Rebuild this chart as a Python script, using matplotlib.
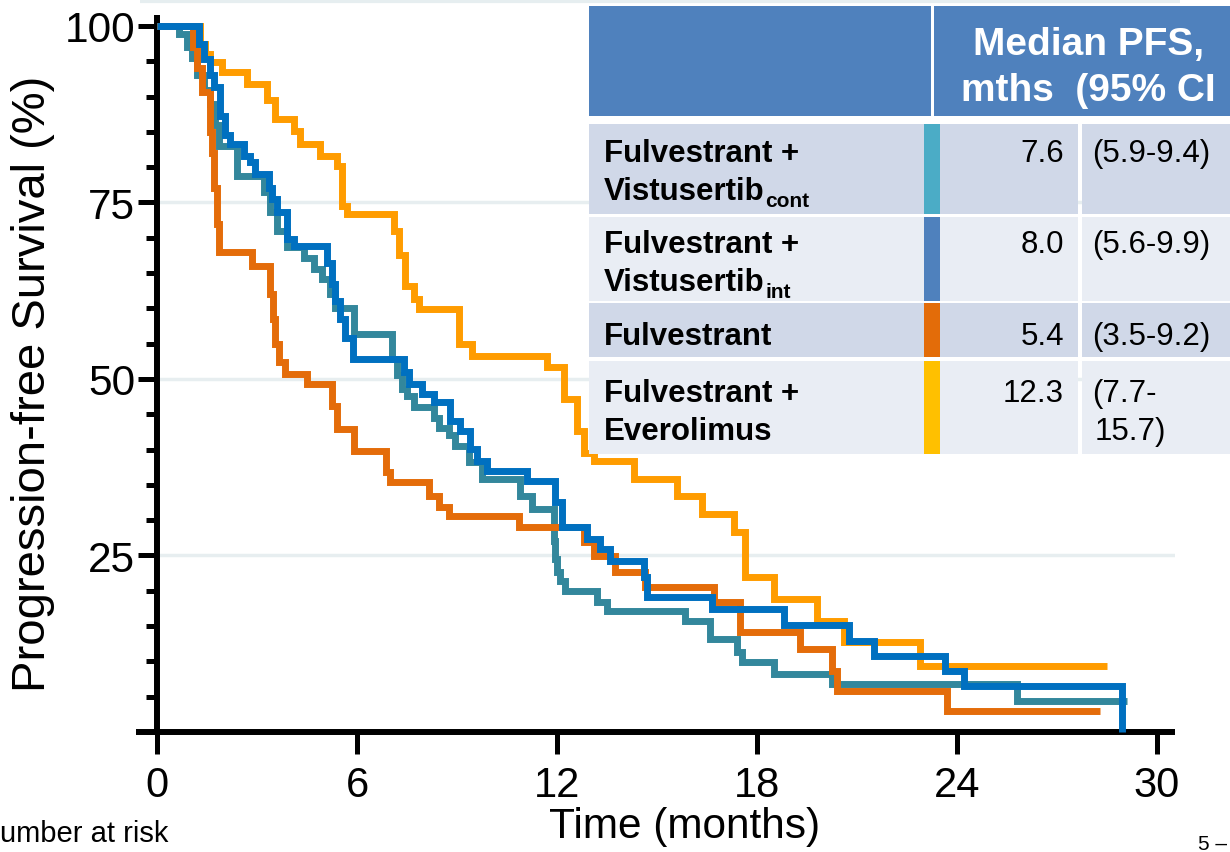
import matplotlib
matplotlib.use('Agg')
import matplotlib.pyplot as plt
from matplotlib.patches import Rectangle
from matplotlib.ticker import MultipleLocator

plt.rcParams['font.family'] = ['Liberation Sans', 'DejaVu Sans']

# ---------------- data ----------------
# Fulvestrant + Vistusertib (continuous)
teal_t = [0, 0.65, 0.9, 1.05, 1.2, 1.4, 1.6, 1.75, 1.85, 2.4, 3.2, 3.4, 3.6, 3.9, 4.4, 4.7,
          4.95, 5.2, 5.35, 5.9, 7.05, 7.2, 7.35, 7.5, 7.7, 8.3, 8.45, 8.75, 8.95, 9.35, 9.75,
          10.9, 11.25, 11.9, 11.95, 12.0, 12.1, 12.25, 13.2, 13.5, 15.85, 16.6, 17.4, 17.55,
          18.5, 20.25, 25.8, 29.1]
teal_s = [100, 98.8, 97, 95.5, 93, 91, 89, 86, 83, 78.8, 76.5, 73.6, 71, 68.7, 67.1, 65.6,
          64.2, 62, 60, 56.4, 52.8, 50.5, 48.6, 47.6, 46, 44.5, 43, 42, 40.5, 38.2, 35.8,
          33.4, 31.6, 27, 24.5, 22.6, 21.4, 20.0, 18.4, 17.1, 15.7, 13.2, 11.3, 9.9,
          8.2, 6.8, 4.4, 4.4]

# Fulvestrant + Vistusertib (intermittent)
blue_t = [0, 1.25, 1.4, 1.6, 1.7, 1.9, 2.05, 2.2, 2.6, 2.8, 2.95, 3.35, 3.45, 3.6, 3.9, 4.1,
          5.1, 5.25, 5.35, 5.5, 5.65, 5.88, 7.4, 7.55, 7.95, 8.3, 8.8, 9.1, 9.4, 9.6, 9.9,
          11.1, 11.95, 12.15, 12.9, 13.3, 13.6, 14.6, 14.7, 16.65, 18.8, 20.75, 21.5, 23.65,
          24.2, 28.95]
blue_s = [100, 97.5, 95.3, 93, 91.4, 87.3, 84.5, 83.3, 81.6, 80.7, 79, 77, 75.5, 73.6, 69.8,
          68.8, 66.5, 63.5, 61, 58.5, 55.8, 52.8, 51, 49.3, 47.9, 46.7, 44.1, 42.6, 40.1, 38.4,
          37, 35.6, 32.6, 29.1, 27.3, 25.9, 24.2, 22, 19.1, 17.4, 15.1, 12.9, 10.8, 8.6, 6.5, 0]

# Fulvestrant
orange_t = [0, 1.08, 1.2, 1.35, 1.6, 1.65, 1.72, 1.8, 1.87, 2.85, 3.39, 3.47, 3.55, 3.65,
            3.85, 4.5, 5.25, 5.4, 5.9, 6.88, 7.0, 8.15, 8.45, 8.75, 10.85, 12.8, 13.1, 13.75,
            14.65, 16.7, 17.5, 19.3, 20.25, 20.4, 23.7, 28.3]
orange_s = [100, 97, 94, 90.7, 85, 82, 77, 72, 68.0, 66.0, 62, 58.5, 55, 52.4,
            50.7, 49.3, 46.2, 42.9, 39.8, 36.8, 35.4, 33.4, 31.9, 30.6, 29.0, 26.9, 24.9, 22.6,
            20.5, 18.4, 14.2, 11.8, 8.6, 5.8, 3.0, 3.0]

# Fulvestrant + Everolimus
yellow_t = [0, 1.3, 1.45, 1.6, 1.95, 2.7, 3.3, 3.55, 4.1, 4.3, 4.9, 5.4, 5.55, 5.7, 7.1,
            7.25, 7.45, 7.7, 7.85, 9.05, 9.45, 11.7, 12.2, 12.6, 12.8, 13.1, 14.3, 15.6,
            16.35, 17.3, 17.65, 18.5, 19.8, 20.6, 22.9, 28.5]
yellow_s = [100, 97.5, 96, 94.9, 93.5, 91.8, 89.5, 86.8, 85.1, 83.3, 81.6, 80.2, 74.5, 73.3,
            71, 67.5, 63.2, 61.3, 59.9, 55.0, 53.3, 51.7, 47.2, 42.6, 39.5, 38.4, 35.8, 33.4,
            30.9, 28.3, 22.0, 18.8, 15.7, 12.7, 9.3, 9.3]

x_ticks = [0, 6, 12, 18, 24, 30]
y_ticks = [25, 50, 75, 100]

tbl_header = ["Median PFS,", "mths  (95% CI"]
tbl_names = [["Fulvestrant +", "Vistusertib"], ["Fulvestrant +", "Vistusertib"],
             ["Fulvestrant"], ["Fulvestrant +", "Everolimus"]]
tbl_subs = ["cont", "int", "", ""]
tbl_median = ["7.6", "8.0", "5.4", "12.3"]
tbl_ci = [["(5.9-9.4)"], ["(5.6-9.9)"], ["(3.5-9.2)"], ["(7.7-", "15.7)"]]

# ---------------- styles ----------------
c_teal, c_blue, c_orange, c_yellow = '#33879c', '#0070c0', '#e46c0a', '#ff9c00'
bar_colors = ['#4bacc6', '#4f81bd', '#e36c09', '#ffc000']
row_bg = ['#d0d8e8', '#e9edf4', '#d0d8e8', '#e9edf4']

W, H = 1230, 853
fig = plt.figure(figsize=(W / 100, H / 100), dpi=100)
fig.patch.set_facecolor('white')


def px_box(x0, y0, x1, y1):
    return [x0 / W, 1 - y1 / H, (x1 - x0) / W, (y1 - y0) / H]


ax = fig.add_axes(px_box(136, 16.4, 1175, 733))
ax.set_xlim(-0.63, 30.54)
ax.set_ylim(0, 101.5)
ax.set_facecolor('none')

for s in ['top', 'right']:
    ax.spines[s].set_visible(False)
ax.spines['left'].set_position(('data', 0))
for s in ['left', 'bottom']:
    ax.spines[s].set_linewidth(4.3)
    ax.spines[s].set_capstyle('butt')

ax.set_xticks(x_ticks)
ax.set_yticks(y_ticks)
ax.yaxis.set_minor_locator(MultipleLocator(5))
ax.tick_params(axis='x', which='major', length=16, width=3.6, pad=8, labelsize=30)
ax.tick_params(axis='y', which='major', length=14, width=3.6, pad=1.5, labelsize=30.5)
ax.tick_params(axis='y', which='minor', length=8, width=3.6)

for v in y_ticks[:-1]:
    ax.hlines(v, 0, 30.54, color='#e7eef0', lw=2.5, zorder=0)

for t, s, c in [(yellow_t, yellow_s, c_yellow), (teal_t, teal_s, c_teal),
                (orange_t, orange_s, c_orange), (blue_t, blue_s, c_blue)]:
    ax.step(t, s, where='post', color=c, lw=5.0, solid_joinstyle='miter',
            solid_capstyle='butt', clip_on=False, zorder=3)

fig.text(33 / W, 1 - 384 / H, 'Progression-free Survival (%)', rotation=90,
         ha='center', va='center', fontsize=34)
fig.text(685 / W, 1 - 838 / H, 'Time (months)', ha='center', va='baseline', fontsize=30.5)
fig.text(0, 1 - 842 / H, 'umber at risk', ha='left', va='baseline', fontsize=21)
fig.text(1198 / W, 1 - 835 / H, '5 \u2013', ha='left', va='top', fontsize=15)

# ---------------- table overlay ----------------
ov = fig.add_axes([0, 0, 1, 1], zorder=5)
ov.set_xlim(0, W)
ov.set_ylim(H, 0)
ov.axis('off')
ov.patch.set_alpha(0)

ov.plot([140, 1180], [2, 2], color='#e6eef0', lw=3, solid_capstyle='butt')

ov.add_patch(Rectangle((589, 7), 700, 110, fc='#4f81bd', ec='none'))
ov.add_patch(Rectangle((931, 7), 3, 110, fc='white', ec='none'))
ov.text(1089, 55, tbl_header[0], color='white', fontsize=28, fontweight='bold',
        ha='center', va='baseline')
ov.text(1088, 101, tbl_header[1], color='white', fontsize=28, fontweight='bold',
        ha='center', va='baseline')

row_top = [125, 218, 304, 362]
row_bot = [215, 302, 358, 455]
row_base = [162, 253, 345, 402]
line_gap = 38

sub_items = []
for i in range(4):
    y0, y1 = row_top[i], row_bot[i]
    h = y1 - y0
    ov.add_patch(Rectangle((589, y0), 924 - 589, h, fc=row_bg[i], ec='none'))
    ov.add_patch(Rectangle((924, y0), 16, h, fc=bar_colors[i], ec='none'))
    ov.add_patch(Rectangle((940, y0), 1078 - 940, h, fc=row_bg[i], ec='none'))
    ov.add_patch(Rectangle((1082, y0), 200, h, fc=row_bg[i], ec='none'))
    last = None
    for j, line in enumerate(tbl_names[i]):
        last = ov.text(604, row_base[i] + j * line_gap, line, fontsize=22.5,
                       fontweight='bold', ha='left', va='baseline', color='black')
    if tbl_subs[i]:
        sub_items.append((last, tbl_subs[i], row_base[i] + (len(tbl_names[i]) - 1) * line_gap + 7))
    ov.text(1064, row_base[i], tbl_median[i], fontsize=22.5, ha='right', va='baseline')
    for j, line in enumerate(tbl_ci[i]):
        ov.text(1092 + (3 if j else 0), row_base[i] + j * line_gap, line, fontsize=22.5,
                ha='left', va='baseline')

fig.canvas.draw()
r = fig.canvas.get_renderer()
for txt, sub, yb in sub_items:
    bb = txt.get_window_extent(r)
    xd = ov.transData.inverted().transform((bb.x1, bb.y0))[0]
    ov.text(xd + 1, yb, sub, fontsize=15, fontweight='bold', ha='left', va='baseline')

fig.savefig('out.png', dpi=100, facecolor='white')
